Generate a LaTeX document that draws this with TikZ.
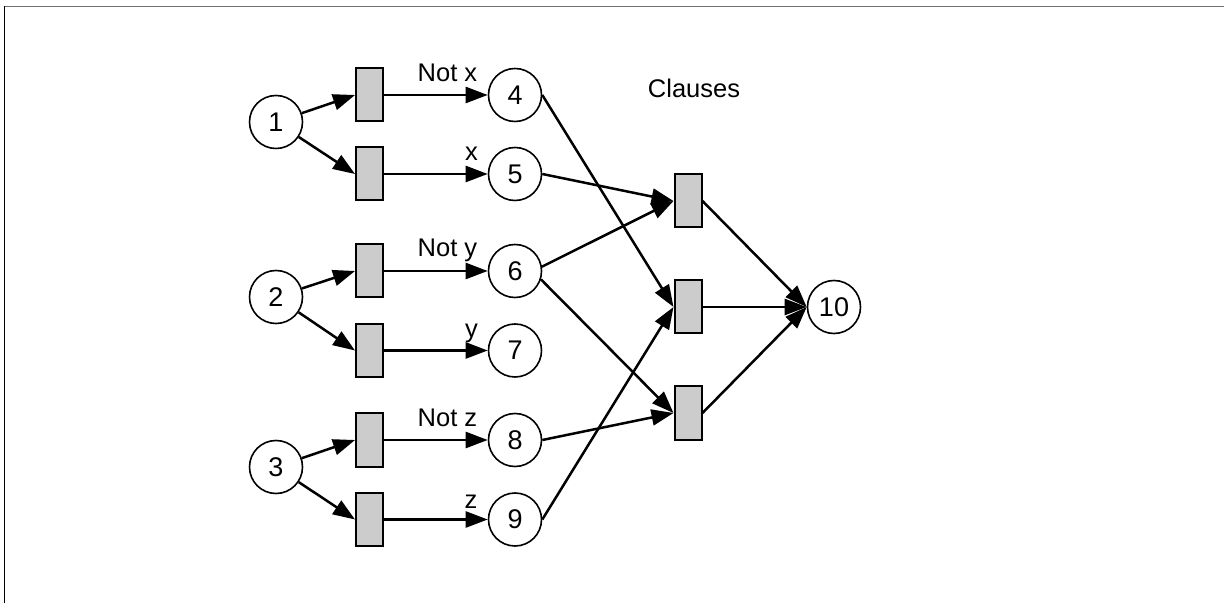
\documentclass[tikz,border=0pt]{standalone}
\usepackage{fontspec}
\setmainfont{Liberation Sans}
\usetikzlibrary{arrows.meta}
\definecolor{tfill}{HTML}{CCCCCC}
\definecolor{framegray}{HTML}{707070}
\begin{document}
\begin{tikzpicture}[x=0.5pt,y=-0.5pt,
  font=\fontsize{12.75}{15}\selectfont,
  place/.style={circle,draw,line width=0.8pt,minimum size=26.5pt,inner sep=0pt,font=\fontsize{13.5}{16}\selectfont},
  trans/.style={rectangle,draw,line width=1pt,fill=tfill,minimum width=13.5pt,minimum height=26.5pt,inner sep=0pt},
  arc/.style={line width=1.25pt,-{Triangle[length=11pt,width=8pt]}},
  lbl/.style={anchor=base,inner sep=0pt}]
\useasboundingbox (0,0) rectangle (1224,603);
\draw[framegray,line width=0.75pt] (4,6.5) -- (1224,6.5);
\draw[black,line width=0.75pt] (4.5,6.5) -- (4.5,603);
% places
\node[place] (p1) at (276,122) {1};
\node[place] (p2) at (276,297) {2};
\node[place] (p3) at (276,467) {3};
\node[place] (p4) at (515,95) {4};
\node[place] (p5) at (515,174) {5};
\node[place] (p6) at (515,271) {6};
\node[place] (p7) at (515,350.5) {7};
\node[place] (p8) at (515,440) {8};
\node[place] (p9) at (515,519.5) {9};
\node[place] (p10) at (834,307) {10};
% transitions
\node[trans] (t1a) at (369.5,95) {};
\node[trans] (t1b) at (369.5,174) {};
\node[trans] (t2a) at (369.5,271) {};
\node[trans] (t2b) at (369.5,350.5) {};
\node[trans] (t3a) at (369.5,440) {};
\node[trans] (t3b) at (369.5,519.5) {};
\node[trans] (c1) at (688,201) {};
\node[trans] (c2) at (688,307) {};
\node[trans] (c3) at (688,413) {};
% labels
\node[lbl] (lnx) at (447.5,82) {Not x};
\node[lbl] (lx) at (471.5,161) {x};
\node[lbl] (lny) at (447.5,257) {Not y};
\node[lbl] (ly) at (471.5,338) {y};
\node[lbl] (lnz) at (447.5,426) {Not z};
\node[lbl] (lz) at (471,508) {z};
\node[lbl] (cl) at (694,98) {Clauses};
% arcs
\draw[arc] (p1) -- (t1a.west);
\draw[arc] (p1) -- (t1b.west);
\draw[arc] (p2) -- (t2a.west);
\draw[arc] (p2) -- (t2b.west);
\draw[arc] (p3) -- (t3a.west);
\draw[arc] (p3) -- (t3b.west);
\draw[arc] (t1a.east) -- (p4.west);
\draw[arc] (t1b.east) -- (p5.west);
\draw[arc] (t2a.east) -- (p6.west);
\draw[arc] (t2b.east) -- (p7.west);
\draw[arc] (t3a.east) -- (p8.west);
\draw[arc] (t3b.east) -- (p9.west);
\draw[arc] (p4.east) -- (c2.west);
\draw[arc] (p5.east) -- (c1.west);
\draw[arc] (p6.9) -- (c1.west);
\draw[arc] (p6.-18) -- (c3.west);
\draw[arc] (p8.east) -- (c3.west);
\draw[arc] (p9.east) -- (c2.west);
\draw[arc] (c1.east) -- (p10.west);
\draw[arc] (c2.east) -- (p10.west);
\draw[arc] (c3.east) -- (p10.west);
\end{tikzpicture}
\end{document}
